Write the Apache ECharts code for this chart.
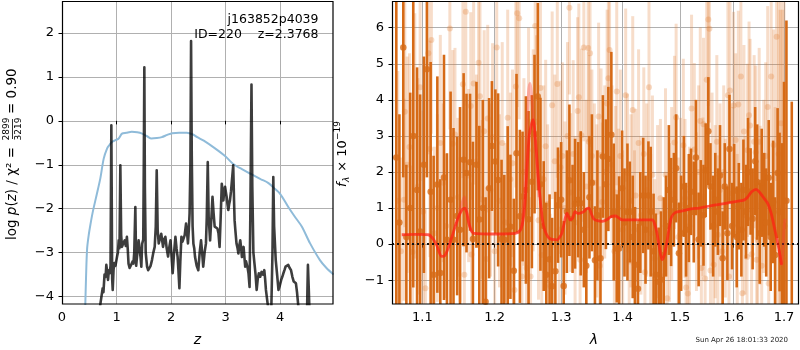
<!DOCTYPE html>
<html>
<head>
<meta charset="utf-8">
<script src="https://cdn.jsdelivr.net/npm/echarts@6/dist/echarts.min.js"></script>
<style>
html, body { margin: 0; padding: 0; background: #fff; }
#chart { width: 800px; height: 350px; }
</style>
</head>
<body>
<div id="chart"></div>
<script>
// ---------- redshift probability panel ----------
const pzZ = [0.60, 0.68, 0.70, 0.72, 0.746, 0.76, 0.78, 0.80, 0.813, 0.83, 0.844, 0.86, 0.875, 0.89, 0.905, 0.92, 0.93, 0.945, 0.96, 0.98,
  1.01, 1.025, 1.04, 1.055, 1.07, 1.085, 1.10, 1.12, 1.15, 1.17, 1.19, 1.205, 1.22, 1.24, 1.26, 1.28, 1.295, 1.31, 1.325, 1.345,
  1.36, 1.376, 1.39, 1.405, 1.42, 1.44, 1.455, 1.47, 1.49, 1.50, 1.51, 1.52, 1.535, 1.56, 1.58, 1.60, 1.625, 1.65, 1.675, 1.70,
  1.72, 1.737, 1.755, 1.774, 1.80, 1.82, 1.835, 1.853, 1.875, 1.896, 1.92, 1.945, 1.965, 1.99, 2.01, 2.03, 2.055, 2.08, 2.10, 2.12,
  2.135, 2.153, 2.17, 2.19, 2.21, 2.23, 2.25, 2.275, 2.29, 2.31, 2.325, 2.34, 2.355, 2.367, 2.38, 2.395, 2.41, 2.425, 2.44, 2.47,
  2.50, 2.525, 2.55, 2.57, 2.59, 2.615, 2.64, 2.655, 2.673, 2.69, 2.716, 2.74, 2.76, 2.78, 2.80, 2.83, 2.85, 2.87, 2.89, 2.91,
  2.93, 2.945, 2.96, 2.975, 2.99, 3.005, 3.02, 3.035, 3.05, 3.065, 3.08, 3.10, 3.14, 3.155, 3.165, 3.18, 3.20, 3.22, 3.235, 3.25,
  3.27, 3.285, 3.30, 3.315, 3.33, 3.345, 3.36, 3.375, 3.39, 3.405, 3.42, 3.44, 3.455, 3.475, 3.49, 3.51, 3.53, 3.55, 3.57, 3.59,
  3.61, 3.635, 3.66, 3.685, 3.71, 3.725, 3.74, 3.77, 3.79, 3.81, 3.84, 3.86, 3.875, 3.89, 3.92, 3.945, 3.97, 3.995, 4.02, 4.04,
  4.06, 4.08, 4.10, 4.125, 4.15, 4.175, 4.20, 4.225, 4.25, 4.27, 4.29, 4.31, 4.34, 4.37, 4.40, 4.45, 4.49, 4.50, 4.51, 4.525,
  4.545, 4.60, 4.70, 4.98];
const pzLog = [-5.0, -4.4, -4.2, -4.18, -3.81, -3.9, -3.5, -3.55, -3.28, -3.45, -3.62, -3.40, -3.47, -3.3, -0.10, -3.6, -3.85, -3.4, -3.24, -3.3,
  -3.09, -3.0, -2.72, -2.9, -1.01, -2.6, -2.87, -2.8, -2.72, -2.85, -2.64, -2.9, -3.25, -3.35, -3.3, -3.32, -3.2, -3.25, -3.0, -1.96,
  -3.3, -3.32, -2.9, -2.72, -2.75, -3.1, -3.32, -2.8, -2.7, -1.0, 1.22, -1.5, -3.0, -3.32, -3.4, -3.40, -3.3, -3.17, -3.0, -2.87,
  -2.4, -1.125, -2.5, -2.79, -2.75, -2.57, -2.7, -2.87, -2.7, -2.64, -2.9, -3.09, -2.9, -2.72, -3.1, -3.47, -3.0, -2.64, -2.9, -3.09,
  -3.4, -3.81, -3.2, -2.64, -2.75, -2.79, -2.6, -2.34, -2.5, -2.79, -2.5, -2.1, -1.0, 1.82, -0.8, -2.4, -2.8, -2.9, -3.10, -3.3,
  -3.40, -3.0, -2.72, -3.0, -3.32, -3.0, -2.79, -2.2, -0.94, -2.2, -2.72, -2.2, -1.73, -2.1, -2.41, -2.41, -2.45, -2.56, -2.87, -2.2,
  -1.43, -1.6, -1.81, -1.6, -1.50, -1.62, -1.73, -1.9, -2.03, -1.9, -1.81, -1.6, -1.01, -1.8, -2.26, -2.5, -2.79, -2.9, -3.02, -2.85,
  -2.72, -2.9, -3.10, -2.95, -2.87, -3.1, -3.32, -3.2, -3.17, -3.35, -3.47, -3.78, -2.0, 0.83, -1.5, -3.0, -3.25, -3.5, -3.85, -3.6,
  -3.47, -3.55, -3.44, -3.5, -3.40, -3.6, -3.85, -4.15, -4.3, -4.4, -4.2, -3.0, -1.28, -2.4, -3.17, -3.5, -3.85, -3.75, -3.62, -3.55,
  -3.47, -3.4, -3.32, -3.28, -3.28, -3.35, -3.40, -3.55, -3.66, -3.68, -3.70, -3.9, -4.3, -4.6, -4.8, -4.9, -4.7, -3.9, -3.28, -3.8,
  -4.6, -5.0, -5.2, -5.5];

// scaled chi-square curve
const chiZ = [0.425, 0.44, 0.46, 0.49, 0.52, 0.56, 0.612, 0.66, 0.703, 0.765, 0.826, 0.87, 0.917, 0.98, 1.04, 1.10, 1.18, 1.28,
  1.38, 1.47, 1.56, 1.64, 1.74, 1.83, 1.93, 2.02, 2.15, 2.29, 2.40, 2.48, 2.6, 2.8, 2.99, 3.14, 3.3, 3.48, 3.65, 3.78, 3.88,
  4.0, 4.15, 4.28, 4.40, 4.55, 4.73, 4.85, 4.98];
const chiVal = [-4.3, -3.6, -2.92, -2.6, -2.37, -2.1, -1.81, -1.55, -1.31, -0.86, -0.63, -0.55, -0.48, -0.44, -0.40, -0.29, -0.27, -0.25,
  -0.26, -0.29, -0.35, -0.40, -0.39, -0.37, -0.32, -0.28, -0.27, -0.27, -0.31, -0.37, -0.45, -0.62, -0.80, -0.98, -1.1, -1.22, -1.33, -1.41, -1.52,
  -1.66, -1.96, -2.2, -2.41, -2.79, -3.17, -3.35, -3.5];

const zTicks = [0, 1, 2, 3, 4];
const pzTicks = [-4, -3, -2, -1, 0, 1, 2];

// ---------- spectrum panel ----------
const darkWave = [1.066, 1.070, 1.075, 1.079, 1.084, 1.088, 1.093, 1.097, 1.102, 1.106, 1.111, 1.115, 1.120, 1.124, 1.129, 1.133, 1.138, 1.142, 1.147, 1.151,
  1.156, 1.160, 1.165, 1.169, 1.174, 1.178, 1.183, 1.187, 1.192, 1.196, 1.201, 1.205, 1.210, 1.214, 1.219, 1.223, 1.228, 1.232, 1.237, 1.241,
  1.246, 1.250, 1.255, 1.259, 1.264, 1.268, 1.273, 1.277, 1.282, 1.286, 1.291, 1.295, 1.300, 1.304, 1.309, 1.313, 1.318, 1.322, 1.327, 1.331,
  1.336, 1.340, 1.345, 1.349, 1.354, 1.358, 1.363, 1.367, 1.372, 1.376, 1.381, 1.385, 1.390, 1.394, 1.399, 1.403, 1.408, 1.412, 1.417, 1.421,
  1.426, 1.430, 1.435, 1.439, 1.444, 1.448, 1.453, 1.457, 1.462, 1.466, 1.471, 1.475, 1.480, 1.484, 1.489, 1.493, 1.498, 1.502, 1.507, 1.511,
  1.516, 1.520, 1.525, 1.529, 1.534, 1.538, 1.543, 1.547, 1.552, 1.556, 1.561, 1.565, 1.570, 1.574, 1.579, 1.583, 1.588, 1.592, 1.597, 1.601,
  1.606, 1.610, 1.615, 1.619, 1.624, 1.628, 1.633, 1.637, 1.642, 1.646, 1.651, 1.655, 1.660, 1.664, 1.669, 1.673, 1.678, 1.682, 1.687, 1.691,
  1.696, 1.700, 1.705, 1.716];
const darkFlux = [2.4, 0.6, 5.45, 0.2, 1.0, 3.0, 1.5, 0.35, 2.2, 4.85, 1.45, -0.85, 1.65, -0.8, 1.85, 0.12, 1.23, 0.12, 0.78, 0.4,
  2.34, 1.97, 2.27, 0.14, 2.2, 0.68, 1.0, -1.6, 1.55, 2.72, 2.29, 1.78, 0.14, 0.12, 0.37, 0.48, -0.74, 2.52, 0.77, 1.32,
  1.5, 0.69, 1.73, 3.05, 4.09, 1.66, 0.5, -0.85, -0.42, -1.17, -0.75, 1.08, 1.23, -1.16, 0.9, 1.77, 0.7, 1.12, 1.23, 1.13,
  0.4, -0.6, 1.3, 1.7, -0.45, 0.8, -0.39, 2.43, 1.66, 2.36, 3.03, 0.89, -0.12, -0.12, 1.55, 0.6, 0.89, 0.89, 0.2, -0.57,
  -1.24, 0.6, 1.35, 0.4, 1.35, 0.9, -0.2, -0.85, -1.04, -0.99, -0.3, 0.5, 1.5, 0.89, 1.23, 2.1, -0.25, 0.3, 1.6, 0.4,
  1.0, 1.45, 0.89, 2.4, 0.13, 1.13, 0.8, 2.05, 3.13, 1.6, 0.5, 1.23, 0.9, 1.9, -0.39, 1.6, 0.3, 2.64, 0.5, 1.48,
  0.2, 1.05, 0.4, 1.5, 0.9, 2.0, 1.46, 0.7, 2.3, 1.72, 0.3, 1.7, 1.23, 0.6, 1.84, 0.2, 1.17, -0.3, 1.97, 0.89,
  -0.4, 0.5, 1.2, -1.9];
const darkErr = [4.6, 3.0, 3.6, 2.0, 3.2, 4.2, 3.4, 3.8, 3.0, 3.0, 3.6, 3.3, 3.0, 2.6, 3.4, 2.4, 3.0, 3.1, 2.2, 3.4,
  2.4, 2.2, 1.9, 2.7, 2.3, 2.6, 3.0, 2.9, 2.5, 1.8, 2.0, 2.4, 2.2, 1.8, 2.9, 2.0, 2.0, 2.2, 2.4, 1.8,
  2.6, 3.0, 2.4, 2.2, 2.6, 2.4, 1.8, 2.0, 1.8, 1.9, 2.2, 1.6, 1.6, 1.8, 1.7, 2.1, 1.5, 1.8, 1.6, 2.0,
  1.6, 1.6, 1.7, 1.9, 1.5, 1.8, 1.4, 1.7, 1.8, 2.0, 2.3, 1.9, 1.5, 2.0, 1.6, 1.5, 1.9, 1.4, 1.7, 1.6,
  1.8, 1.4, 1.6, 1.5, 1.5, 1.8, 1.6, 1.7, 1.5, 1.9, 1.6, 1.4, 1.8, 1.5, 1.3, 1.5, 1.4, 1.6, 1.4, 1.3,
  1.5, 1.2, 1.4, 1.6, 1.3, 1.2, 1.4, 1.3, 1.5, 1.2, 1.4, 1.3, 1.2, 1.4, 1.3, 1.2, 1.3, 1.5, 1.2, 1.3,
  1.4, 1.2, 1.3, 1.4, 1.3, 1.5, 1.2, 1.4, 1.5, 1.6, 1.4, 1.5, 1.3, 1.5, 1.6, 1.5, 1.7, 1.6, 1.8, 2.2,
  3.2, 4.0, 5.0, 5.85];

const lightWave = [1.068, 1.072, 1.076, 1.077, 1.080, 1.083, 1.087, 1.090, 1.094, 1.097, 1.101, 1.104, 1.108, 1.110, 1.112, 1.116, 1.120, 1.124, 1.128, 1.132,
  1.137, 1.141, 1.144, 1.148, 1.151, 1.155, 1.157, 1.159, 1.163, 1.166, 1.167, 1.170, 1.174, 1.177, 1.179, 1.182, 1.185, 1.188, 1.190, 1.194,
  1.197, 1.200, 1.203, 1.207, 1.211, 1.215, 1.219, 1.223, 1.226, 1.229, 1.231, 1.233, 1.236, 1.240, 1.243, 1.247, 1.250, 1.253, 1.257, 1.260,
  1.262, 1.265, 1.268, 1.270, 1.273, 1.276, 1.279, 1.283, 1.286, 1.290, 1.294, 1.297, 1.299, 1.302, 1.306, 1.310, 1.313, 1.315, 1.319, 1.322,
  1.326, 1.328, 1.330, 1.332, 1.336, 1.340, 1.343, 1.344, 1.346, 1.349, 1.353, 1.357, 1.360, 1.362, 1.364, 1.366, 1.370, 1.374, 1.376, 1.378,
  1.382, 1.386, 1.388, 1.390, 1.393, 1.396, 1.400, 1.405, 1.408, 1.411, 1.414, 1.417, 1.420, 1.422, 1.427, 1.431, 1.436, 1.438, 1.441, 1.445,
  1.448, 1.451, 1.455, 1.460, 1.465, 1.469, 1.474, 1.477, 1.481, 1.485, 1.490, 1.493, 1.497, 1.501, 1.506, 1.509, 1.511, 1.514, 1.517, 1.521,
  1.526, 1.530, 1.534, 1.537, 1.539, 1.542, 1.543, 1.546, 1.549, 1.552, 1.554, 1.556, 1.559, 1.562, 1.565, 1.568, 1.570, 1.574, 1.578, 1.581,
  1.584, 1.589, 1.591, 1.593, 1.597, 1.600, 1.604, 1.607, 1.609, 1.614, 1.617, 1.620, 1.622, 1.626, 1.627, 1.630, 1.632, 1.635, 1.640, 1.643,
  1.645, 1.647, 1.650, 1.652, 1.655, 1.659, 1.663, 1.667, 1.669, 1.674, 1.679, 1.682, 1.685, 1.689, 1.692, 1.694, 1.697, 1.700];
const lightFlux = [1.2, -0.2, 1.23, 3.67, 2.2, 2.69, -0.22, 3.0, 1.6, 4.35, 0.9, -1.22, 5.29, 2.64, 5.66, 0.3, 1.0, 2.8, 1.7, 0.5,
  5.98, 2.78, 3.04, 1.3, 0.4, 4.43, -0.85, 6.44, 1.9, 3.83, -0.29, 4.45, 2.3, 5.03, 4.1, 1.24, 3.13, -0.41, 3.48, 1.5,
  2.97, -0.2, 5.45, 1.2, 2.8, 0.6, 3.5, 1.8, 2.24, -1.27, 4.37, 6.4, 6.26, -0.9, 2.0, -0.66, 3.4, -0.9, 2.6, 6.05,
  3.39, 0.66, 4.33, -0.3, 1.8, 2.71, 1.12, -1.16, 3.85, 2.3, 4.44, 0.4, 2.13, 2.44, 1.0, 3.0, 6.55, 1.43, 2.5, 0.6,
  3.69, 4.07, -0.43, 3.02, 5.45, 1.6, 5.44, 2.84, 5.29, 2.44, 1.7, 0.92, 3.54, -0.6, 2.47, 1.17, 2.0, 3.9, 4.6, 5.38,
  2.2, -0.2, 1.43, 4.23, 1.0, 2.44, 0.4, 4.13, 1.97, -0.48, 1.2, 3.72, 0.4, 1.35, 2.8, 0.8, 2.5, -0.78, 1.5, 4.35,
  0.3, 1.92, -0.4, 0.9, 1.27, -0.9, 1.92, -1.5, 0.6, 1.4, 2.82, 3.51, 0.2, 1.1, 2.74, 1.27, -1.2, -1.37, 0.5, 3.76,
  2.62, 0.9, 2.0, 3.41, -0.66, 1.31, 3.32, -0.95, 4.56, 6.23, 5.97, -0.73, 1.8, -0.57, 0.9, 2.84, 0.26, 1.5, -0.2, 2.0,
  0.72, 4.13, -0.9, 4.26, 1.4, 3.84, 2.89, 0.3, 3.87, 4.65, -1.36, 3.12, 0.8, -0.36, 2.6, 3.57, 3.29, -0.28, 2.84, 2.55,
  -0.43, 0.12, 2.84, 1.08, -0.6, 1.6, 2.44, 3.8, -1.09, 4.65, 2.75, 0.4, 5.75, 2.5, 1.0, 3.35, 0.0, 2.0];
const lightErr = [3.6, 2.6, 2.8, 3.2, 3.0, 2.6, 2.4, 3.4, 3.0, 2.6, 2.8, 2.2, 2.8, 3.0, 2.6, 2.4, 2.6, 3.0, 2.2, 2.0,
  2.8, 2.6, 2.4, 2.2, 2.0, 2.6, 2.2, 2.6, 2.4, 2.6, 2.0, 2.8, 2.4, 2.6, 2.8, 2.2, 2.8, 2.0, 2.6, 2.4,
  2.6, 2.2, 2.6, 2.4, 2.8, 2.2, 3.0, 2.4, 2.6, 2.2, 2.8, 2.6, 2.8, 2.2, 2.6, 2.4, 2.6, 2.2, 2.8, 2.6,
  2.4, 2.2, 2.8, 2.2, 2.6, 2.4, 2.2, 2.0, 2.6, 2.4, 2.6, 2.2, 2.4, 2.6, 2.4, 2.6, 2.4, 2.2, 2.6, 2.4,
  2.6, 2.6, 2.2, 2.4, 2.6, 2.4, 2.6, 2.4, 2.6, 2.4, 2.2, 2.4, 2.6, 2.2, 2.4, 2.2, 2.4, 2.6, 2.6, 2.4,
  2.2, 2.2, 2.4, 2.6, 2.2, 2.4, 2.2, 2.4, 2.2, 2.0, 2.4, 2.6, 2.2, 2.4, 2.6, 2.2, 2.4, 2.0, 2.4, 2.6,
  2.2, 2.2, 2.2, 2.4, 2.2, 2.2, 2.4, 2.0, 2.2, 2.4, 2.4, 2.6, 2.2, 2.4, 2.4, 2.2, 2.0, 2.2, 2.2, 2.6,
  2.4, 2.2, 2.4, 2.6, 2.0, 2.2, 2.4, 2.2, 2.6, 2.4, 2.6, 2.2, 2.4, 2.2, 2.4, 2.4, 2.2, 2.4, 2.2, 2.4,
  2.2, 2.6, 2.2, 2.6, 2.4, 2.6, 2.4, 2.2, 2.6, 2.6, 2.0, 2.4, 2.2, 2.2, 2.4, 2.6, 2.4, 2.2, 2.4, 2.4,
  2.2, 2.2, 2.6, 2.2, 2.2, 2.4, 2.6, 2.8, 2.4, 3.0, 3.2, 3.4, 4.0, 4.6, 5.5, 5.0, 6.5, 6.0];

// best-fit template
const modelWave = [1.073, 1.090, 1.108, 1.114, 1.119, 1.126, 1.130, 1.135, 1.140, 1.149, 1.157, 1.160, 1.163, 1.166, 1.170, 1.200, 1.230, 1.238, 1.242, 1.245,
  1.248, 1.251, 1.254, 1.257, 1.260, 1.265, 1.269, 1.273, 1.281, 1.294, 1.298, 1.301, 1.305, 1.309, 1.312, 1.314, 1.318, 1.322, 1.326, 1.330,
  1.336, 1.340, 1.344, 1.348, 1.352, 1.358, 1.366, 1.374, 1.380, 1.388, 1.394, 1.399, 1.420, 1.440, 1.451, 1.455, 1.459, 1.463, 1.468, 1.472,
  1.477, 1.480, 1.485, 1.492, 1.504, 1.520, 1.535, 1.566, 1.604, 1.620, 1.627, 1.635, 1.644, 1.650, 1.657, 1.667, 1.674, 1.680, 1.686, 1.690, 1.695];
const modelFlux = [0.26, 0.27, 0.26, 0.15, -0.02, -0.34, -0.32, -0.1, 0.21, 0.76, 1.0, 0.9, 0.6, 0.4, 0.30, 0.28, 0.30, 0.40, 0.7, 1.23,
  2.2, 3.0, 3.3, 3.45, 3.0, 1.78, 1.0, 0.49, 0.17, 0.12, 0.2, 0.30, 0.6, 0.86, 0.75, 0.67, 0.72, 0.9, 0.85, 0.86,
  0.9, 0.98, 1.0, 0.85, 0.7, 0.65, 0.63, 0.68, 0.76, 0.78, 0.72, 0.67, 0.67, 0.67, 0.67, 0.55, 0.3, -0.07, -0.43, -0.3,
  0.1, 0.40, 0.76, 0.88, 0.92, 0.98, 1.0, 1.09, 1.18, 1.22, 1.3, 1.45, 1.52, 1.45, 1.32, 1.13, 0.85, 0.49, 0.1, -0.16, -0.57];
// second beam template, drawn fainter (gaps where it overlaps the first)
const model2Wave = [1.145, 1.150, 1.154, 1.157, 1.160, 1.164, 1.168, null, 1.240, 1.244, 1.247, 1.250, 1.252, 1.255, 1.258, 1.262, 1.266, null, 1.690, 1.695, 1.698, 1.700, 1.702];
const model2Flux = [0.5, 0.85, 1.15, 1.3, 1.0, 0.55, 0.33, null, 0.5, 1.5, 3.0, 4.2, 4.45, 4.0, 3.3, 2.3, 1.3, null, -0.16, -0.57, -0.1, 0.4, 0.7];

const waveTicks = [1.1, 1.2, 1.3, 1.4, 1.5, 1.6, 1.7];
const fluxTicks = [-1, 0, 1, 2, 3, 4, 5, 6];

const FONT = 'DejaVu Sans';
const DARK = 'rgb(214,106,22)';
const LIGHT = 'rgba(226,125,50,0.26)';
const LIGHT_DOT = 'rgba(226,125,50,0.35)';

const minus = v => (v < 0 ? '\u2212' + Math.abs(v) : String(v));

function errorBars(width, color) {
  return function (params, api) {
    const x = api.value(0), y = api.value(1), e = api.value(2);
    const hi = api.coord([x, y + e]);
    const lo = api.coord([x, y - e]);
    const cs = params.coordSys;
    const shape = echarts.graphic.clipRectByRect(
      { x: hi[0] - width / 2, y: hi[1], width: width, height: lo[1] - hi[1] },
      { x: cs.x, y: cs.y, width: cs.width, height: cs.height });
    return shape && { type: 'rect', shape: shape, style: { fill: color } };
  };
}

function axisCommon(ticks, fmt, margin) {
  return {
    axisLine: { show: false },
    axisTick: { show: true, length: 3.5, customValues: ticks, lineStyle: { color: '#000', width: 1 } },
    axisLabel: { customValues: ticks, formatter: fmt, color: '#000', fontSize: 13, fontFamily: FONT, margin: margin },
    splitLine: { show: true, lineStyle: { color: '#b0b0b0', width: 1 } }
  };
}

const chart = echarts.init(document.getElementById('chart'), null, { renderer: 'canvas' });

const option = {
  animation: false,
  backgroundColor: '#fff',
  grid: [
    { left: 62, top: 1, width: 271, height: 303, outerBoundsMode: 'none' },
    { left: 392, top: 1, width: 407, height: 303, outerBoundsMode: 'none' }
  ],
  xAxis: [
    Object.assign({ gridIndex: 0, type: 'value', min: 0, max: 4.97 }, axisCommon(zTicks, minus, 7)),
    Object.assign({ gridIndex: 1, type: 'log', logBase: 10, min: 1.0605, max: 1.731 },
      axisCommon(waveTicks, v => Number(v).toFixed(1), 7))
  ],
  yAxis: [
    Object.assign({ gridIndex: 0, type: 'value', min: -4.17, max: 2.73 }, axisCommon(pzTicks, minus, 8)),
    Object.assign({ gridIndex: 1, type: 'value', min: -1.66, max: 6.74 }, axisCommon(fluxTicks, minus, 8))
  ],
  series: [
    {
      type: 'line', xAxisIndex: 0, yAxisIndex: 0, z: 2,
      data: chiZ.map((z, i) => [z, chiVal[i]]),
      showSymbol: false, smooth: 0.3,
      lineStyle: { color: '#8fbbd9', width: 2 }
    },
    {
      type: 'line', xAxisIndex: 0, yAxisIndex: 0, z: 3,
      data: pzZ.map((z, i) => [z, pzLog[i]]),
      showSymbol: false,
      lineStyle: { color: 'rgba(0,0,0,0.76)', width: 2.6, join: 'round', cap: 'round' }
    },
    {
      type: 'custom', xAxisIndex: 1, yAxisIndex: 1, z: 2,
      renderItem: errorBars(3, LIGHT),
      encode: { x: 0, y: 1 },
      data: lightWave.map((w, i) => [w, lightFlux[i], lightErr[i]])
    },
    {
      type: 'scatter', xAxisIndex: 1, yAxisIndex: 1, z: 2,
      symbolSize: 6,
      itemStyle: { color: LIGHT_DOT },
      data: lightWave.map((w, i) => [w, lightFlux[i]])
    },
    {
      type: 'custom', xAxisIndex: 1, yAxisIndex: 1, z: 3,
      renderItem: errorBars(2.6, DARK),
      encode: { x: 0, y: 1 },
      data: darkWave.map((w, i) => [w, darkFlux[i], darkErr[i]])
    },
    {
      type: 'scatter', xAxisIndex: 1, yAxisIndex: 1, z: 3,
      symbolSize: 6.5,
      itemStyle: { color: DARK },
      data: darkWave.map((w, i) => [w, darkFlux[i]])
    },
    {
      type: 'line', xAxisIndex: 1, yAxisIndex: 1, z: 5,
      data: model2Wave.map((w, i) => [w, model2Flux[i]]),
      showSymbol: false, connectNulls: false, smooth: 0.3,
      lineStyle: { color: 'rgba(255,60,60,0.35)', width: 3 }
    },
    {
      type: 'line', xAxisIndex: 1, yAxisIndex: 1, z: 6,
      data: modelWave.map((w, i) => [w, modelFlux[i]]),
      showSymbol: false, smooth: 0.3,
      lineStyle: { color: 'rgba(255,30,20,0.72)', width: 2.8 },
      markLine: {
        silent: true, symbol: ['none', 'none'], z: 4,
        label: { show: false },
        lineStyle: { color: '#111', width: 2, type: [2, 3] },
        data: [{ yAxis: 0 }]
      }
    }
  ],
  graphic: [
    // frames
    { type: 'rect', z: 100, silent: true, shape: { x: 62.5, y: 1.5, width: 270.5, height: 302.5 }, style: { fill: 'none', stroke: '#000', lineWidth: 1.2 } },
    { type: 'rect', z: 100, silent: true, shape: { x: 392.5, y: 1.5, width: 406, height: 302.5 }, style: { fill: 'none', stroke: '#000', lineWidth: 1.2 } },
    // object annotation
    { type: 'text', z: 101, x: 318.5, y: 20, style: { text: 'j163852p4039', font: '12.5px "DejaVu Sans"', fill: '#000', align: 'right', verticalAlign: 'middle' } },
    { type: 'text', z: 101, x: 318.5, y: 34.5, style: { text: 'ID=220    z=2.3768', font: '12.5px "DejaVu Sans"', fill: '#000', align: 'right', verticalAlign: 'middle' } },
    // x axis titles
    { type: 'text', z: 101, x: 197.5, y: 340, style: { text: 'z', font: 'italic 14px "DejaVu Sans"', fill: '#000', align: 'center', verticalAlign: 'middle' } },
    { type: 'text', z: 101, x: 594, y: 340, style: { text: 'λ', font: 'italic 14px "DejaVu Sans"', fill: '#000', align: 'center', verticalAlign: 'middle' } },
    // left y title with stacked fraction
    {
      type: 'group', x: 12.5, y: 240, rotation: Math.PI / 2, z: 101,
      children: [
        { type: 'text', x: 0, y: 0, style: {
            text: '{n|log }{i|p}{n|(}{i|z}{n|) / χ² = }',
            rich: { n: { fontSize: 13.5, fontFamily: FONT, fill: '#000' }, i: { fontSize: 13.5, fontFamily: FONT, fontStyle: 'italic', fill: '#000' } },
            align: 'left', verticalAlign: 'middle' } },
        { type: 'text', x: 111, y: -5.5, style: { text: '2899', font: '9px "DejaVu Sans"', fill: '#000', align: 'center', verticalAlign: 'middle' } },
        { type: 'line', shape: { x1: 101, y1: 0, x2: 121, y2: 0 }, style: { stroke: '#000', lineWidth: 0.8 } },
        { type: 'text', x: 111, y: 6, style: { text: '3219', font: '9px "DejaVu Sans"', fill: '#000', align: 'center', verticalAlign: 'middle' } },
        { type: 'text', x: 126, y: 0, style: { text: '= 0.90', font: '13.5px "DejaVu Sans"', fill: '#000', align: 'left', verticalAlign: 'middle' } }
      ]
    },
    // right y title
    {
      type: 'group', x: 343, y: 187, rotation: Math.PI / 2, z: 101,
      children: [
        { type: 'text', x: 0, y: 0, style: { text: 'f', font: 'italic 13px "DejaVu Sans"', fill: '#000', align: 'left', verticalAlign: 'middle' } },
        { type: 'text', x: 5, y: 4, style: { text: 'λ', font: 'italic 9px "DejaVu Sans"', fill: '#000', align: 'left', verticalAlign: 'middle' } },
        { type: 'text', x: 11, y: 0, style: { text: ' × 10', font: '13px "DejaVu Sans"', fill: '#000', align: 'left', verticalAlign: 'middle' } },
        { type: 'text', x: 47, y: -5, style: { text: '−19', font: '9px "DejaVu Sans"', fill: '#000', align: 'left', verticalAlign: 'middle' } }
      ]
    },
    // timestamp
    { type: 'text', z: 101, x: 788, y: 340, style: { text: 'Sun Apr 26 18:01:33 2020', font: '7px "DejaVu Sans"', fill: '#222', align: 'right', verticalAlign: 'middle' } }
  ]
};

chart.setOption(option);
</script>
</body>
</html>
